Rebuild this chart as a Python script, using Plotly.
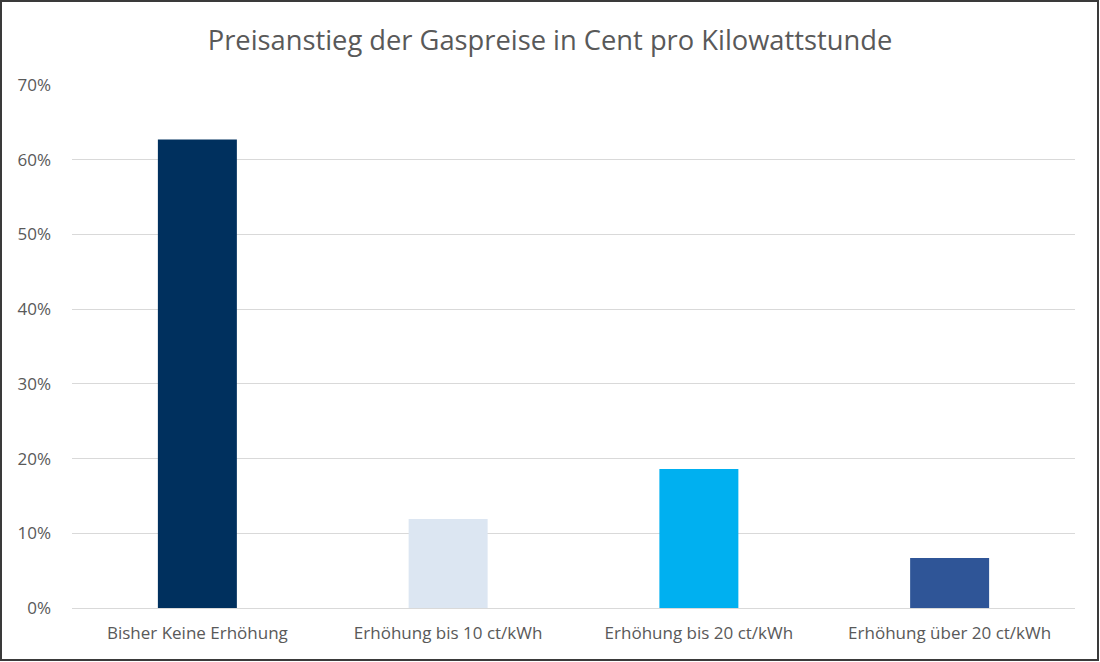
import plotly.graph_objects as go

categories = ["Bisher Keine Erhöhung", "Erhöhung bis 10 ct/kWh", "Erhöhung bis 20 ct/kWh", "Erhöhung über 20 ct/kWh"]
values = [0.627, 0.119, 0.186, 0.067]
colors = ["#00305E", "#DCE6F2", "#00B0F0", "#2F5597"]
tick_vals = [0, 0.1, 0.2, 0.3, 0.4, 0.5, 0.6, 0.7]
tick_text = ["0%", "10%", "20%", "30%", "40%", "50%", "60%", "70%"]

W, H = 1100, 662
ml, mr, mt, mb = 72, 25, 85, 54
pw, ph = W - ml - mr, H - mt - mb

fig = go.Figure(go.Bar(x=categories, y=values, marker=dict(color=colors, line=dict(width=0)),
                       hoverinfo="skip"))

fig.update_layout(
    width=W, height=H,
    margin=dict(l=ml, r=mr, t=mt, b=mb),
    paper_bgcolor="white", plot_bgcolor="white",
    bargap=0.685,
    showlegend=False,
    title=dict(text="Preisanstieg der Gaspreise in Cent pro Kilowattstunde",
               x=0.5, xanchor="center", y=1 - 40 / H, yanchor="middle",
               font=dict(family="Open Sans", size=27.3, color="#595959")),
    font=dict(family="Open Sans", size=17, color="#595959"),
    xaxis=dict(showgrid=False, showline=False, ticks="", ticklabelstandoff=13,
               tickfont=dict(size=17, color="#595959")),
    yaxis=dict(range=[0, 0.7], tickvals=tick_vals, ticktext=tick_text,
               showgrid=True, gridcolor="#D9D9D9", gridwidth=1,
               zeroline=True, zerolinecolor="#D9D9D9", zerolinewidth=1,
               showline=False, ticks="", ticklabelstandoff=20,
               tickfont=dict(size=17, color="#595959")),
)

fig.add_shape(type="rect", xref="paper", yref="paper",
              x0=(1 - ml) / pw, x1=(W - 2 - ml) / pw,
              y0=(H - mb - (H - 2)) / ph, y1=(H - mb - 1) / ph,
              line=dict(color="#3A3A3A", width=2), fillcolor="rgba(0,0,0,0)", layer="above")

fig.write_html("out.html")
